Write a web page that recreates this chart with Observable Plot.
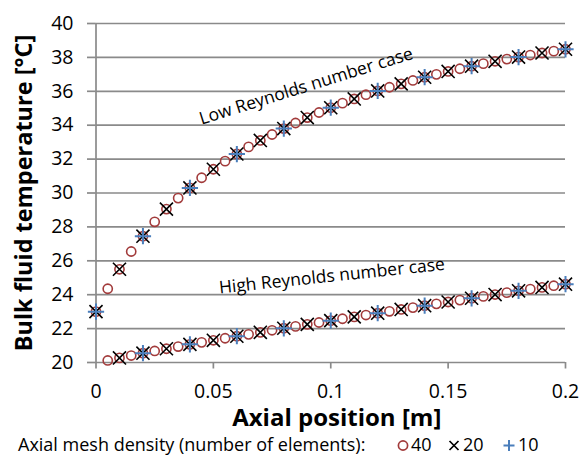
<!DOCTYPE html>
<html>
<head>
<meta charset="utf-8">
<script src="https://cdn.jsdelivr.net/npm/d3@7"></script>
<script src="https://cdn.jsdelivr.net/npm/@observablehq/plot@0.6"></script>
<style>
  html, body { margin: 0; padding: 0; background: #fff; }
  #wrap { width: 581px; font-family: "Open Sans", Lato, sans-serif; }
  #legend { position: relative; height: 24px; width: 581px; font-size: 18px; color: #000; }
  #legend span, #legend svg { position: absolute; top: 0; line-height: 22px; white-space: nowrap; }
</style>
</head>
<body>
<div id="wrap">
  <div id="chart"></div>
  <div id="legend"></div>
</div>
<script>
// Axial positions (m) for each mesh density
const x40 = [0,0.005,0.01,0.015,0.02,0.025,0.03,0.035,0.04,0.045,0.05,0.055,0.06,0.065,0.07,0.075,0.08,0.085,0.09,0.095,0.1,0.105,0.11,0.115,0.12,0.125,0.13,0.135,0.14,0.145,0.15,0.155,0.16,0.165,0.17,0.175,0.18,0.185,0.19,0.195,0.2];
const x20 = [0,0.01,0.02,0.03,0.04,0.05,0.06,0.07,0.08,0.09,0.1,0.11,0.12,0.13,0.14,0.15,0.16,0.17,0.18,0.19,0.2];
const x10 = [0,0.02,0.04,0.06,0.08,0.1,0.12,0.14,0.16,0.18,0.2];

// Low Reynolds number case, bulk temperature (°C)
const low40 = [23.0,24.35,25.5,26.55,27.45,28.3,29.05,29.7,30.3,30.9,31.4,31.88,32.3,32.72,33.1,33.45,33.8,34.13,34.45,34.75,35.03,35.3,35.55,35.8,36.02,36.24,36.44,36.64,36.83,37.0,37.17,37.33,37.48,37.63,37.77,37.9,38.02,38.14,38.26,38.37,38.48];
const low20 = [23.0,25.5,27.45,29.05,30.3,31.4,32.3,33.1,33.8,34.45,35.03,35.55,36.02,36.44,36.83,37.17,37.48,37.77,38.02,38.26,38.48];
const low10 = [23.0,27.45,30.3,32.3,33.8,35.03,36.02,36.83,37.48,38.02,38.48];

// High Reynolds number case, bulk temperature (°C)
const high40 = [null,20.12,20.27,20.41,20.55,20.68,20.81,20.94,21.07,21.19,21.31,21.43,21.55,21.66,21.78,21.9,22.02,22.13,22.25,22.36,22.47,22.58,22.69,22.8,22.91,23.02,23.13,23.24,23.35,23.46,23.57,23.68,23.79,23.9,24.01,24.12,24.23,24.33,24.43,24.53,24.62];
const high20 = [null,20.27,20.55,20.81,21.07,21.31,21.55,21.78,22.02,22.25,22.47,22.69,22.91,23.13,23.35,23.57,23.79,24.01,24.23,24.43,24.62];
const high10 = [null,20.55,21.07,21.55,22.02,22.47,22.91,23.35,23.79,24.23,24.62];

const xTicks = [0,0.05,0.1,0.15,0.2];
const yTicks = [20,22,24,26,28,30,32,34,36,38,40];
const meshLabels = ["40","20","10"];
const caseLabels = [
  {text: "Low Reynolds number case", x: 0.0895, y: 36.3, rotate: -17.3},
  {text: "High Reynolds number case", x: 0.1005, y: 25.1, rotate: -6}
];

function rows(xs, lo, hi) {
  const out = [];
  xs.forEach((x, i) => {
    out.push({x, T: lo[i]});
    if (hi[i] != null) out.push({x, T: hi[i]});
  });
  return out;
}
const d40 = rows(x40, low40, high40);
const d20 = rows(x20, low20, high20);
const d10 = rows(x10, low10, high10);

const gray = "#8a8a8a";
const red = "#a23b3b";
const blue = "#4a7ebb";

const chart = Plot.plot({
  width: 581,
  height: 433,
  marginLeft: 95.5,
  marginRight: 16,
  marginTop: 23,
  marginBottom: 71,
  style: {fontFamily: "'Open Sans', Lato, sans-serif", color: "#000", background: "#fff"},
  x: {domain: [0, 0.2], ticks: xTicks},
  y: {domain: [20, 40], ticks: yTicks},
  marks: [
    Plot.gridY(yTicks, {stroke: gray, strokeOpacity: 1, strokeWidth: 1.7}),
    Plot.ruleX([0], {stroke: gray, strokeWidth: 1.7}),
    Plot.axisY(yTicks, {tickSize: 8.5, tickPadding: 14, stroke: gray, strokeWidth: 1.7, fontSize: 19.5, label: null}),
    Plot.axisX(xTicks, {tickSize: 6.5, tickPadding: 15, stroke: gray, strokeWidth: 1.7, fontSize: 19.5, label: null, tickFormat: d => String(d)}),
    Plot.dot(d40, {x: "x", y: "T", symbol: "circle", r: 4.6, stroke: red, strokeWidth: 1.6, fill: "none"}),
    Plot.dot(d20, {x: "x", y: "T", symbol: "times", r: 6, stroke: "#000", strokeWidth: 1.6}),
    Plot.dot(d10, {x: "x", y: "T", symbol: "plus", r: 5.3, stroke: blue, strokeWidth: 2}),
    Plot.text(caseLabels, {x: "x", y: "y", text: "text", rotate: "rotate", fontSize: 17.5, fill: "#000"}),
    Plot.text(["Bulk fluid temperature [°C]"], {frameAnchor: "left", textAnchor: "middle", lineAnchor: "middle", rotate: -90, dx: -72, dy: 0, fontSize: 23.5, fontWeight: "bold", fill: "#000"}),
    Plot.text(["Axial position [m]"], {frameAnchor: "bottom", textAnchor: "middle", lineAnchor: "middle", dx: 6, dy: 56, fontSize: 24, fontWeight: "bold", fill: "#000"})
  ]
});
document.getElementById("chart").appendChild(chart);

// Legend
const legend = document.getElementById("legend");
function addText(t, left) {
  const s = document.createElement("span");
  s.textContent = t;
  s.style.left = left + "px";
  legend.appendChild(s);
}
function addSym(kind, left, color) {
  const ns = "http://www.w3.org/2000/svg";
  const svg = document.createElementNS(ns, "svg");
  svg.setAttribute("width", 14); svg.setAttribute("height", 22);
  svg.style.left = (left - 7) + "px";
  let el;
  if (kind === "circle") {
    el = document.createElementNS(ns, "circle");
    el.setAttribute("cx", 7); el.setAttribute("cy", 12.5); el.setAttribute("r", 4.6);
    el.setAttribute("fill", "none");
  } else {
    el = document.createElementNS(ns, "path");
    el.setAttribute("d", kind === "times" ? "M2.5,8L11.5,17M2.5,17L11.5,8" : "M1.5,12.5H12.5M7,7V18");
  }
  el.setAttribute("stroke", color); el.setAttribute("stroke-width", kind === "plus" ? 2 : 1.7);
  svg.appendChild(el);
  legend.appendChild(svg);
}
addText("Axial mesh density (number of elements):", 18);
addSym("circle", 403, red); addText(meshLabels[0], 411);
addSym("times", 454, "#000"); addText(meshLabels[1], 463);
addSym("plus", 509, blue); addText(meshLabels[2], 518);
</script>
</body>
</html>
